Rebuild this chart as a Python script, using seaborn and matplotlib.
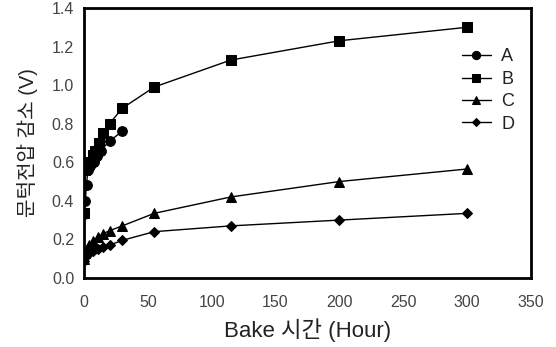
import matplotlib
matplotlib.use("Agg")
import matplotlib.pyplot as plt
import seaborn as sns
import pandas as pd

sns.set_theme(style="white")
plt.rcParams['font.family'] = ['Liberation Sans', 'Noto Sans CJK KR']

t_A = [0, 1, 2, 3, 5, 8, 10, 13, 20, 30]
v_A = [0.33, 0.40, 0.48, 0.56, 0.58, 0.60, 0.63, 0.66, 0.71, 0.76]
t_B = [0, 1, 2, 4, 7, 9, 12, 15, 20, 30, 55, 115, 200, 300]
v_B = [0.335, 0.56, 0.58, 0.60, 0.635, 0.66, 0.70, 0.75, 0.80, 0.88, 0.99, 1.13, 1.23, 1.30]
t_C = [0, 1, 2, 4, 7, 11, 15, 20, 30, 55, 115, 200, 300]
v_C = [0.10, 0.13, 0.15, 0.17, 0.19, 0.21, 0.23, 0.245, 0.27, 0.335, 0.42, 0.50, 0.565]
t_D = [0, 1, 2, 4, 7, 11, 15, 20, 30, 55, 115, 200, 300]
v_D = [0.09, 0.11, 0.12, 0.13, 0.14, 0.15, 0.16, 0.17, 0.195, 0.24, 0.27, 0.30, 0.335]

series = [("A", t_A, v_A, "o", 7), ("B", t_B, v_B, "s", 7),
          ("C", t_C, v_C, "^", 7), ("D", t_D, v_D, "D", 5)]

fig = plt.figure(figsize=(5.56, 3.47), dpi=100)
ax = fig.add_axes([0.151, 0.199, 0.804, 0.778])

for name, t, v, m, ms in series:
    df = pd.DataFrame({"t": t, "v": v})
    sns.lineplot(data=df, x="t", y="v", ax=ax, color="black", marker=m,
                 markersize=ms, markeredgecolor="black", linewidth=1.0,
                 label=name, estimator=None, sort=False)

ax.set_xlim(0, 350)
ax.set_ylim(0, 1.4)
ax.set_xticks(range(0, 351, 50))
ax.set_yticks([0.0, 0.2, 0.4, 0.6, 0.8, 1.0, 1.2, 1.4])
ax.set_yticklabels([f"{y:.1f}" for y in [0.0, 0.2, 0.4, 0.6, 0.8, 1.0, 1.2, 1.4]])
ax.tick_params(direction="in", length=3, width=1.5, colors="black",
               labelcolor="#444444", labelsize=11.5, pad=7)
ax.tick_params(axis="x", pad=12)
for s in ax.spines.values():
    s.set_linewidth(2)
    s.set_color("black")
ax.set_xlabel("Bake 시간 (Hour)", fontsize=16, color="#222222", labelpad=6)
ax.set_ylabel("문턱전압 감소 (V)", fontsize=14.5, color="#222222", labelpad=10)

leg = ax.legend(loc="upper left", bbox_to_anchor=(0.845, 0.85), frameon=False,
                fontsize=13, handlelength=1.6, handletextpad=0.6,
                labelspacing=0.3, markerscale=0.85, borderaxespad=0,
                borderpad=0)
for txt in leg.get_texts():
    txt.set_color("#222222")

fig.savefig("out.png", dpi=100)
